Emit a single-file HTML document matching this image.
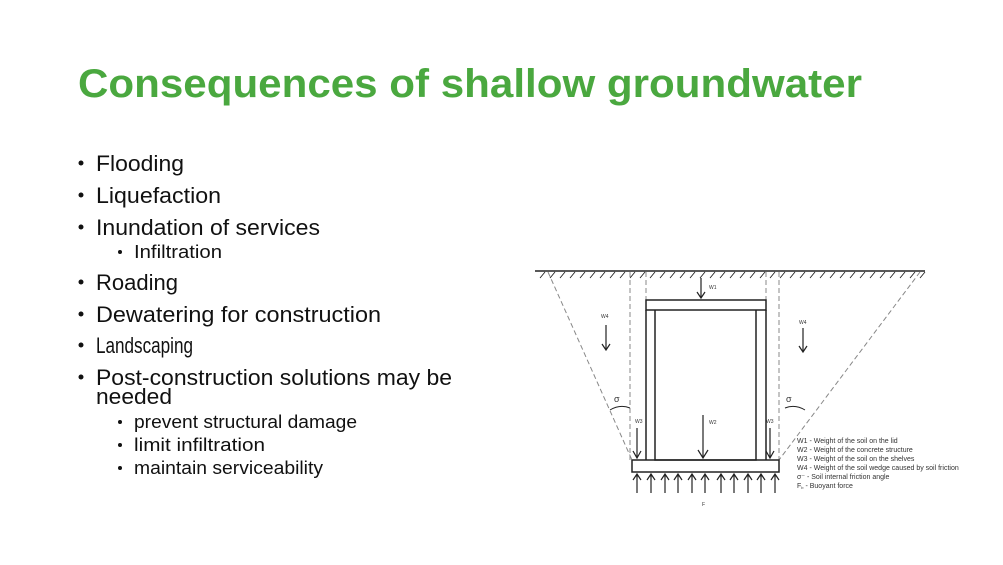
<!DOCTYPE html>
<html><head><meta charset="utf-8"><style>
html,body{margin:0;padding:0;background:#fff;}
svg{display:block;}
</style></head><body>
<svg width="1003" height="565" viewBox="0 0 1003 565" xmlns="http://www.w3.org/2000/svg" font-family="Liberation Sans, sans-serif">
<rect width="1003" height="565" fill="#fff"/>
<text x="78" y="97" font-size="40" font-weight="bold" fill="#4aa83f" textLength="784" lengthAdjust="spacingAndGlyphs">Consequences of shallow groundwater</text>
<g font-size="22" fill="#111">
<circle cx="81" cy="163" r="2.5"/><text x="96" y="171" textLength="88" lengthAdjust="spacingAndGlyphs">Flooding</text>
<circle cx="81" cy="195" r="2.5"/><text x="96" y="203" textLength="125" lengthAdjust="spacingAndGlyphs">Liquefaction</text>
<circle cx="81" cy="227" r="2.5"/><text x="96" y="235" textLength="224" lengthAdjust="spacingAndGlyphs">Inundation of services</text>
<circle cx="81" cy="282" r="2.5"/><text x="96" y="290" textLength="82" lengthAdjust="spacingAndGlyphs">Roading</text>
<circle cx="81" cy="314" r="2.5"/><text x="96" y="322" textLength="285" lengthAdjust="spacingAndGlyphs">Dewatering for construction</text>
<circle cx="81" cy="345" r="2.5"/><text x="96" y="353" textLength="97" lengthAdjust="spacingAndGlyphs">Landscaping</text>
<circle cx="81" cy="377" r="2.5"/><text x="96" y="385" textLength="356" lengthAdjust="spacingAndGlyphs">Post-construction solutions may be</text>
<text x="96" y="404" textLength="76" lengthAdjust="spacingAndGlyphs">needed</text>
</g>
<g font-size="18" fill="#111">
<circle cx="120" cy="252" r="2"/><text x="134" y="258" textLength="88" lengthAdjust="spacingAndGlyphs">Infiltration</text>
<circle cx="120" cy="422" r="2"/><text x="134" y="428" textLength="223" lengthAdjust="spacingAndGlyphs">prevent structural damage</text>
<circle cx="120" cy="445" r="2"/><text x="134" y="451" textLength="131" lengthAdjust="spacingAndGlyphs">limit infiltration</text>
<circle cx="120" cy="468" r="2"/><text x="134" y="474" textLength="189" lengthAdjust="spacingAndGlyphs">maintain serviceability</text>
</g>
<!-- diagram -->
<g stroke="#222" fill="none" stroke-width="1.5">
<line x1="535" y1="271" x2="925" y2="271"/>
<g stroke-width="0.9">
<path d="M540 278 l5 -6 M550 278 l5 -6 M560 278 l5 -6 M570 278 l5 -6 M580 278 l5 -6 M590 278 l5 -6 M600 278 l5 -6 M610 278 l5 -6 M620 278 l5 -6 M630 278 l5 -6 M640 278 l5 -6 M650 278 l5 -6 M660 278 l5 -6 M670 278 l5 -6 M680 278 l5 -6 M690 278 l5 -6 M700 278 l5 -6 M710 278 l5 -6 M720 278 l5 -6 M730 278 l5 -6 M740 278 l5 -6 M750 278 l5 -6 M760 278 l5 -6 M770 278 l5 -6 M780 278 l5 -6 M790 278 l5 -6 M800 278 l5 -6 M810 278 l5 -6 M820 278 l5 -6 M830 278 l5 -6 M840 278 l5 -6 M850 278 l5 -6 M860 278 l5 -6 M870 278 l5 -6 M880 278 l5 -6 M890 278 l5 -6 M900 278 l5 -6 M910 278 l5 -6 M920 278 l5 -6"/>
</g>
<g stroke="#888" stroke-dasharray="5,3" stroke-width="1">
<line x1="548" y1="272" x2="632" y2="460"/>
<line x1="920" y1="272" x2="779" y2="460"/>
<line x1="630" y1="272" x2="630" y2="460"/>
<line x1="646" y1="272" x2="646" y2="300"/>
<line x1="766" y1="272" x2="766" y2="300"/>
<line x1="779" y1="272" x2="779" y2="460"/>
</g>
<rect x="646" y="300" width="120" height="10"/>
<path d="M646 310 V460 M655 310 V460 H756 V310 M766 310 V460"/>
<rect x="632" y="460" width="147" height="12"/>
<path d="M610 410 Q620 404 630 408 M785 408 Q795 404 805 410" stroke-width="1"/>
</g>
<g stroke="#222" stroke-width="1.2" fill="none">
<path d="M701 278 V298 M697 292 L701 298 L705 292"/>
<path d="M606 325 V350 M602 344 L606 350 L610 344"/>
<path d="M803 328 V352 M799 346 L803 352 L807 346"/>
<path d="M703 415 V458 M698 450 L703 458 L708 450"/>
<path d="M637 428 V458 M633 451 L637 458 L641 451"/>
<path d="M770 428 V458 M766 451 L770 458 L774 451"/>
<path d="M637 493 V474 M633 480 L637 474 L641 480 M651 493 V474 M647 480 L651 474 L655 480 M665 493 V474 M661 480 L665 474 L669 480 M678 493 V474 M674 480 L678 474 L682 480 M692 493 V474 M688 480 L692 474 L696 480 M705 493 V474 M701 480 L705 474 L709 480 M721 493 V474 M717 480 L721 474 L725 480 M734 493 V474 M730 480 L734 474 L738 480 M748 493 V474 M744 480 L748 474 L752 480 M761 493 V474 M757 480 L761 474 L765 480 M775 493 V474 M771 480 L775 474 L779 480"/>
</g>
<g font-size="5" fill="#333">
<text x="709" y="289">W1</text>
<text x="601" y="318">W4</text>
<text x="799" y="324">W4</text>
<text x="709" y="424">W2</text>
<text x="635" y="423">W3</text>
<text x="766" y="423">W3</text>
<text x="702" y="506">F</text>
<text x="614" y="402" font-size="9">σ</text>
<text x="786" y="402" font-size="9">σ</text>
</g>
<g font-size="7" fill="#333">
<text x="797" y="443">W1 - Weight of the soil on the lid</text>
<text x="797" y="452">W2 - Weight of the concrete structure</text>
<text x="797" y="461">W3 - Weight of the soil on the shelves</text>
<text x="797" y="470">W4 - Weight of the soil wedge caused by soil friction</text>
<text x="797" y="479">σ⁻  - Soil internal friction angle</text>
<text x="797" y="488">F<tspan font-size="4" dy="1">b</tspan><tspan dy="-1">  - Buoyant force</tspan></text>
</g>
</svg>
</body></html>
